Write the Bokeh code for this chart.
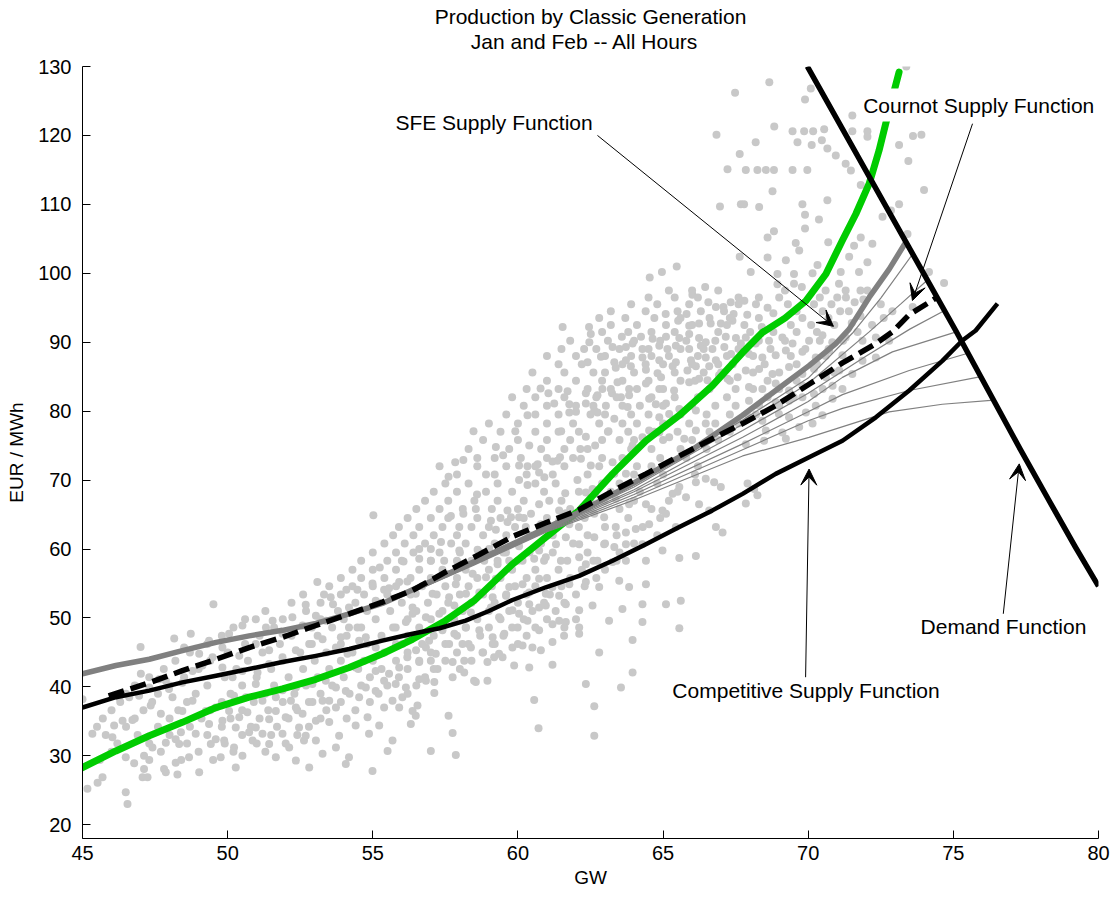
from bokeh.plotting import figure
from bokeh.models import Range1d, Label, Arrow, VeeHead, Title
from bokeh.embed import file_html
from bokeh.resources import INLINE

FONT = "Liberation Sans"

# ---------------- data ----------------
x_ticks = [45, 50, 55, 60, 65, 70, 75, 80]
y_ticks = [20, 30, 40, 50, 60, 70, 80, 90, 100, 110, 120, 130]

title_lines = ["Production by Classic Generation", "Jan and Feb  --  All Hours"]

# observed hourly (GW, EUR/MWh) points, read individually
observed = [
    (67.48, 126.2), (66.84, 120.1), (67.64, 117.3), (67.22, 115.1), (66.96, 109.7), (67.68, 110.0),
    (67.64, 102.4), (64.54, 99.4), (64.96, 100.2), (65.47, 101.0), (66.45, 98.0), (66.01, 96.9),
    (66.56, 95.8), (66.82, 95.1), (67.08, 95.1), (67.33, 95.8), (67.43, 94.1), (65.09, 94.1),
    (65.52, 93.1), (65.81, 94.1), (61.54, 92.2), (62.45, 92.2), (65.90, 92.4), (66.24, 92.7),
    (66.64, 92.7), (66.99, 92.7), (67.39, 93.1),
    (73.38, 130.0), (68.66, 127.7), (70.09, 126.8), (69.89, 125.2), (71.52, 122.9), (68.83, 121.3),
    (69.46, 120.6), (69.86, 120.6), (70.17, 120.6), (70.55, 120.9), (69.63, 119.0), (70.12, 118.6),
    (70.47, 119.3), (70.66, 118.1), (68.19, 119.0), (70.95, 117.1), (71.52, 120.6), (72.04, 120.6),
    (72.04, 119.8), (73.13, 118.6), (73.61, 119.9), (73.90, 120.1), (73.45, 116.3),
    (67.85, 115.0), (68.25, 115.0), (68.54, 115.0), (68.82, 115.0), (69.46, 115.0), (69.97, 115.0),
    (71.29, 115.9), (71.47, 114.9), (73.99, 112.1), (68.77, 111.9), (67.79, 110.0), (68.31, 109.6),
    (69.80, 110.0), (70.66, 110.6), (71.81, 112.8), (69.89, 108.5), (70.37, 107.8), (72.56, 108.2),
    (72.85, 109.1), (73.13, 110.0), (69.89, 106.5), (68.82, 106.1), (68.60, 105.2), (69.57, 104.4),
    (69.69, 103.3), (70.69, 104.5), (71.58, 104.0), (71.81, 105.2), (72.21, 104.3), (73.42, 105.7),
    (69.23, 101.9), (68.60, 102.3), (70.32, 101.2), (70.15, 100.0), (71.12, 100.2), (71.41, 102.4),
    (71.75, 100.2), (72.04, 101.6), (74.16, 100.2), (74.68, 98.6), (68.02, 100.2), (68.94, 99.9),
    (69.51, 99.9), (68.94, 98.4), (69.51, 98.5), (69.78, 98.0), (71.06, 98.5), (71.29, 97.5),
    (72.04, 97.5), (73.60, 95.1), (67.8, 96.0), (68.2, 95.5), (68.6, 95.0), (67.9, 94.0),
    (68.3, 93.5), (68.8, 94.2), (67.8, 92.5), (68.4, 92.2), (71.3, 96.5), (71.6, 95.8),
    (71.9, 96.2), (71.4, 94.5), (71.8, 93.8), (71.5, 92.8),
    (62.51, 91.2), (62.46, 90.0), (63.58, 90.8), (64.24, 90.8), (64.64, 90.5), (65.10, 90.8),
    (65.56, 90.6), (65.90, 91.2), (66.24, 90.6), (66.47, 90.0), (67.16, 90.8), (67.51, 90.6),
    (67.68, 89.8), (63.26, 89.3), (63.72, 89.3), (63.95, 89.8), (64.29, 89.0), (64.87, 89.5),
    (65.15, 89.0), (65.44, 89.5), (65.90, 89.0), (66.30, 89.5), (66.70, 89.0), (67.11, 89.3),
    (67.34, 88.3), (62.28, 89.0), (62.40, 87.1), (62.86, 87.9), (63.32, 87.1), (63.72, 87.4),
    (64.29, 87.8), (64.87, 87.4), (65.44, 87.1), (65.96, 87.4), (66.47, 87.8), (66.82, 87.4),
    (63.37, 86.3), (63.89, 86.5), (64.41, 86.0), (64.81, 85.5), (64.93, 84.9), (65.33, 86.5),
    (65.84, 85.9), (66.13, 86.5), (66.59, 86.5), (63.43, 84.2), (63.83, 83.2), (64.41, 84.0),
    (64.87, 83.2), (65.38, 83.0), (65.90, 84.2), (66.24, 84.7), (66.53, 84.5), (66.93, 85.2),
    (67.22, 84.7), (67.57, 84.9), (60.78, 83.3), (61.05, 82.6), (61.71, 82.9), (62.34, 82.6),
    (62.74, 82.3), (62.91, 83.2), (63.24, 82.6), (63.55, 82.0), (63.83, 82.3), (61.25, 81.1),
    (61.77, 81.0), (62.00, 79.9), (62.34, 81.1), (62.63, 80.1), (63.03, 80.8), (63.32, 78.9),
    (63.78, 80.6), (64.52, 81.8), (64.75, 81.0), (65.10, 81.1), (60.33, 79.4), (61.77, 79.8),
    (62.74, 79.8), (64.87, 79.1), (65.21, 79.6), (65.56, 80.3), (66.13, 80.1), (58.47, 77.1),
    (59.91, 77.1), (61.49, 77.1), (62.34, 76.3), (63.12, 77.1), (63.95, 75.0), (64.29, 76.2),
    (64.52, 77.2), (64.87, 76.9), (65.21, 76.2), (65.73, 76.0), (66.13, 77.2), (66.47, 78.2),
    (57.84, 72.6), (58.12, 72.9), (59.24, 74.8), (59.49, 73.6), (60.39, 75.0), (61.45, 73.3),
    (61.19, 72.7), (62.15, 74.5), (62.66, 75.0), (62.17, 73.1), (62.51, 72.1), (63.26, 72.6),
    (57.61, 70.5), (60.04, 72.1), (60.33, 72.0), (60.68, 72.3), (60.91, 70.4), (61.36, 72.8),
    (62.05, 70.0), (62.34, 68.2), (62.66, 68.0), (63.32, 70.9), (63.72, 70.9), (58.59, 67.9),
    (60.04, 70.0), (60.33, 69.3), (60.73, 71.1), (61.63, 68.1), (62.57, 68.7), (62.97, 67.0),
    (63.37, 67.3), (63.83, 66.5), (64.41, 66.5), (64.98, 65.6), (65.33, 68.0), (65.56, 69.0),
    (66.13, 69.7), (66.47, 70.2), (66.76, 69.7), (66.99, 69.0), (57.69, 64.8), (58.12, 65.1),
    (58.55, 65.8), (59.07, 64.1), (59.64, 65.6), (59.76, 64.6), (60.45, 65.1), (60.73, 66.5),
    (61.08, 67.0), (61.42, 65.6), (61.65, 65.2), (57.98, 63.2), (59.24, 62.8), (59.64, 63.9),
    (60.04, 64.6), (60.27, 63.2), (60.79, 63.6), (61.42, 64.1), (61.77, 63.6), (62.63, 65.1),
    (62.97, 64.6), (63.37, 63.2), (63.72, 62.4), (64.06, 62.9), (64.52, 63.6), (65.10, 65.1),
    (65.44, 63.2), (65.79, 67.5), (66.24, 66.5), (66.59, 65.6), (66.82, 63.2), (67.05, 62.4),
    (56.60, 60.0), (57.00, 60.0), (57.35, 61.0), (57.98, 59.8), (58.61, 59.9), (59.01, 60.0),
    (59.59, 59.5), (60.04, 60.4), (60.73, 59.8), (61.31, 60.7), (61.65, 61.7), (62.11, 60.7),
    (62.63, 61.7), (62.97, 60.7), (63.32, 60.3), (63.72, 60.7), (64.29, 60.7), (64.98, 59.8),
    (65.56, 58.7), (66.13, 59.0), (56.60, 58.6), (57.00, 58.3), (57.46, 58.3), (58.09, 57.6),
    (58.84, 58.3), (59.30, 57.8), (59.70, 58.3), (60.16, 58.3), (60.56, 58.6), (60.96, 58.8),
    (61.48, 58.3), (62.11, 58.8), (62.34, 57.8), (62.74, 58.3), (63.26, 58.1), (63.72, 58.3),
    (64.41, 58.3), (57.52, 56.4), (57.86, 54.9), (58.44, 56.4), (58.90, 55.9), (59.24, 55.7),
    (59.70, 54.5), (60.16, 54.9), (60.73, 55.7), (61.19, 54.5), (61.77, 54.9), (62.34, 55.2),
    (62.80, 54.5), (63.49, 55.4), (63.83, 54.5), (64.41, 54.9), (56.48, 53.5), (57.06, 53.5),
    (57.63, 53.0), (58.21, 53.5), (58.67, 53.7), (59.13, 53.0), (59.59, 53.2), (60.39, 53.7),
    (60.96, 53.5), (61.42, 53.2),
    (67.85, 90.7), (68.19, 89.8), (68.65, 90.2), (69.11, 90.7), (69.46, 89.8), (70.03, 90.2),
    (70.49, 91.0), (70.83, 90.0), (71.29, 90.7), (71.87, 90.2), (72.33, 90.7), (72.79, 90.2),
    (67.96, 88.3), (68.42, 87.8), (68.88, 88.1), (69.23, 88.8), (69.80, 88.6), (70.26, 87.8),
    (70.72, 88.8), (71.18, 88.1), (71.87, 87.3), (72.33, 87.8), (67.85, 85.9), (68.31, 86.1),
    (68.77, 85.4), (69.34, 86.4), (69.80, 85.4), (70.20, 86.1), (70.61, 84.9), (71.07, 85.9),
    (71.52, 85.4), (67.96, 83.5), (68.42, 83.2), (68.88, 84.0), (69.34, 83.0), (69.80, 83.7),
    (70.20, 82.5), (70.84, 83.7), (71.18, 83.2), (67.96, 81.5), (68.31, 80.8), (68.88, 81.3),
    (69.34, 81.5), (69.80, 82.0), (70.26, 80.8), (70.84, 81.8), (67.96, 79.1), (68.42, 78.6),
    (68.99, 79.6), (69.34, 79.1), (69.92, 79.8), (70.49, 79.4), (68.54, 77.2), (69.11, 76.9),
    (69.69, 77.7), (70.15, 78.2), (68.48, 75.7), (69.23, 76.0), (67.85, 75.2), (67.91, 69.5),
    (68.25, 67.8), (67.85, 66.6), (68.14, 68.7),
    (55.02, 64.9), (56.06, 58.2), (55.24, 57.3), (53.09, 55.2), (54.09, 54.1), (54.47, 54.1),
    (54.99, 55.0), (53.32, 53.4), (53.55, 53.0), (55.39, 54.1), (55.56, 54.3), (55.91, 55.2),
    (56.19, 55.3),
    (49.51, 52.0), (52.69, 51.9), (53.63, 52.0), (45.0, 38.2), (45.34, 33.2), (45.17, 25.2),
    (45.52, 26.1), (45.69, 26.9), (46.03, 32.7), (46.09, 34.4), (46.38, 35.1), (46.72, 35.2),
    (46.49, 29.8), (46.78, 28.9), (46.49, 24.7), (46.55, 23.0), (47.12, 28.1), (47.07, 26.9),
    (47.24, 26.9), (47.12, 30.0), (47.41, 31.2), (47.01, 41.9), (47.35, 37.3), (47.70, 36.1),
    (47.81, 28.1), (47.87, 27.6), (48.21, 29.0), (48.27, 27.3), (48.33, 31.7), (48.39, 33.4),
    (48.21, 32.4), (47.87, 31.9), (48.16, 47.0), (48.73, 47.7), (48.50, 45.7), (49.02, 27.6),
    (48.67, 29.8), (48.90, 33.2), (49.08, 35.8), (49.36, 34.6), (49.42, 31.7), (49.59, 32.4),
    (49.88, 32.2), (50.22, 31.2), (50.28, 28.3), (50.51, 30.0), (49.76, 29.8), (50.05, 36.5),
    (50.40, 35.6), (50.68, 36.3), (50.74, 33.4), (50.97, 34.1), (51.20, 33.2), (51.43, 35.3),
    (51.66, 36.5), (52.00, 35.6), (52.18, 38.0), (52.35, 37.0), (52.58, 36.1), (52.92, 37.8),
    (53.27, 38.0), (53.50, 38.0), (53.73, 37.0), (53.04, 35.1), (53.50, 34.9), (53.84, 32.9),
    (52.46, 34.1), (52.69, 32.9), (52.63, 32.2), (54.18, 29.8), (54.07, 28.8), (54.41, 34.4),
    (54.82, 35.6), (54.87, 33.2), (54.99, 27.8), (55.22, 34.4), (55.39, 37.0), (55.68, 38.0),
    (55.91, 37.0), (56.14, 39.9), (55.79, 40.4), (55.39, 40.9), (55.10, 42.3), (54.70, 43.8),
    (54.41, 42.8), (54.13, 44.8), (54.53, 46.7), (54.18, 48.6), (53.90, 47.2), (53.73, 45.7),
    (53.27, 46.9), (52.81, 46.2), (52.35, 45.3), (51.89, 44.3), (51.43, 43.3), (51.03, 42.1),
    (50.97, 40.4), (50.51, 42.3), (50.17, 41.4), (49.82, 42.8), (49.48, 44.3), (49.13, 43.1),
    (48.79, 42.3), (48.44, 40.6), (47.98, 39.7), (47.64, 41.1), (47.30, 39.9), (46.95, 38.7),
    (46.61, 38.5), (46.26, 38.5), (50.05, 47.7), (50.51, 48.9), (50.97, 49.8), (51.32, 48.6),
    (51.55, 49.6), (51.89, 47.7), (52.23, 50.1), (52.58, 48.9), (53.04, 50.3), (53.38, 49.6),
    (50.97, 46.2), (51.43, 45.3), (50.40, 44.5), (49.82, 45.7), (49.36, 46.7), (49.02, 44.8),
    (47.87, 40.9), (48.10, 38.5), (48.44, 36.5), (48.79, 38.0), (49.25, 36.5), (49.59, 37.0),
    (50.22, 38.7), (50.63, 38.5), (51.20, 38.0), (51.66, 38.5), (51.89, 39.5), (52.35, 39.9),
    (52.92, 40.4), (53.38, 40.9), (53.73, 39.9), (54.07, 39.4), (54.53, 38.5), (54.76, 39.9),
    (55.10, 39.4), (55.56, 41.9), (55.91, 42.8), (56.19, 44.3), (56.02, 46.2), (55.79, 48.6),
    (56.14, 49.4), (55.10, 45.7), (54.76, 47.2), (54.47, 48.6), (54.18, 51.5), (55.10, 52.5),
    (56.37, 50.6), (56.02, 38.5), (56.37, 36.5), (56.31, 34.6), (55.68, 32.2), (55.51, 30.7),
    (49.82, 35.1), (50.28, 34.1), (50.86, 32.2), (51.43, 31.7), (51.89, 33.2), (52.12, 31.2),
    (51.66, 29.8), (52.35, 29.3), (53.04, 32.2), (53.27, 30.3), (53.73, 31.2), (52.81, 28.3),
    (47.0, 45.8),
    (56.37, 51.5), (56.83, 50.1), (57.29, 50.6), (57.81, 51.8), (58.38, 50.8), (59.07, 51.5),
    (59.35, 50.1), (59.81, 51.1), (60.04, 50.6), (60.39, 52.0), (60.73, 51.5), (60.96, 51.8),
    (61.65, 52.0), (62.11, 51.1), (62.57, 51.8), (63.60, 51.3), (64.29, 52.0), (65.10, 52.0),
    (65.61, 52.5), (56.60, 47.7), (56.94, 46.7), (57.40, 48.2), (57.81, 47.7), (58.21, 48.6),
    (58.67, 48.2), (59.13, 47.2), (59.53, 47.7), (59.99, 48.6), (60.33, 49.6), (60.73, 48.2),
    (61.19, 49.1), (61.42, 49.6), (61.65, 49.4), (62.11, 48.6), (62.11, 47.7), (61.59, 47.4),
    (63.14, 49.6), (64.29, 49.4), (65.56, 48.5), (63.95, 46.8), (56.49, 45.3), (56.83, 45.7),
    (57.17, 44.8), (57.63, 46.2), (58.09, 46.2), (58.38, 45.7), (58.78, 45.0), (59.13, 46.2),
    (59.35, 44.8), (59.81, 45.7), (60.16, 46.0), (60.50, 45.7), (60.79, 45.3), (61.19, 46.5),
    (62.80, 45.0), (56.60, 43.6), (57.00, 43.8), (57.23, 42.6), (57.75, 43.6), (58.15, 43.8),
    (58.15, 42.1), (58.95, 43.6), (59.18, 44.3), (59.47, 44.3), (59.87, 43.1), (60.39, 42.8),
    (61.19, 43.2), (56.60, 41.1), (56.83, 40.9), (57.12, 40.7), (57.75, 41.4), (58.49, 40.9),
    (58.95, 40.9), (58.55, 40.7), (57.12, 39.1), (56.54, 37.3), (56.48, 35.8), (57.61, 35.8),
    (57.75, 33.3), (57.00, 30.7), (57.86, 30.1), (62.34, 40.4), (63.55, 39.9), (63.95, 42.1),
    (62.63, 37.2), (60.56, 38.1), (60.71, 34.0), (62.63, 32.9),
]

# dense part of the cloud, read row by row: (EUR/MWh level, GW positions)
cloud_rows = [
    (97.5, [65.2, 66.0, 66.9, 69.2, 70.6, 71.8]),
    (96.5, [64.5, 65.4, 66.2, 67.6, 68.3, 69.0, 70.4, 71.0]),
    (95.5, [63.9, 64.8, 65.9, 67.6, 69.3, 70.2, 70.8, 72.5]),
    (94.5, [63.2, 64.4, 65.5, 66.3, 67.1, 69.6, 70.5, 71.1, 72.9]),
    (93.5, [62.8, 63.7, 64.7, 65.6, 66.6, 67.3, 69.8, 70.7, 72.6]),
    (92.5, [63.2, 64.1, 65.1, 66.0, 67.2, 69.4, 70.1, 70.9, 72.2]),
    (91.5, [62.9, 63.8, 64.6, 65.4, 66.9, 68.0, 68.8, 69.6, 70.3, 71.7]),
    (90.2, [61.8, 63.1, 64.0, 64.9, 65.8, 66.8, 68.3, 69.2, 70.4, 71.2]),
    (89.0, [61.5, 62.7, 63.5, 64.5, 65.6, 66.4, 67.6, 68.7, 69.9, 70.7]),
    (88.0, [61.0, 62.0, 63.0, 63.9, 64.6, 65.2, 66.2, 67.2, 68.1, 69.4, 70.6]),
    (86.8, [61.4, 62.2, 63.6, 64.4, 65.0, 66.0, 66.9, 67.4, 68.5, 69.6, 70.3]),
    (85.6, [60.5, 61.6, 62.6, 63.0, 64.0, 65.4, 66.4, 67.0, 68.1, 69.0, 70.9]),
    (84.4, [61.0, 62.0, 62.9, 63.6, 64.5, 65.6, 66.1, 67.3, 68.6, 69.6]),
    (83.2, [60.3, 61.4, 62.4, 63.2, 64.1, 65.0, 66.6, 67.5, 68.1, 69.0, 70.5]),
    (82.0, [59.8, 60.6, 61.6, 62.7, 63.4, 64.6, 65.4, 66.2, 67.2, 68.6, 69.5]),
    (80.8, [60.2, 61.0, 62.0, 62.6, 63.6, 64.2, 65.0, 66.0, 66.8, 67.5, 69.0]),
    (79.5, [59.6, 60.6, 61.4, 62.5, 63.0, 63.9, 64.5, 65.6, 66.5, 67.3, 68.2]),
    (78.2, [59.0, 60.0, 61.0, 61.9, 62.8, 63.6, 64.1, 65.0, 65.9, 66.8, 67.6]),
    (77.0, [59.4, 60.6, 61.4, 62.1, 63.1, 63.8, 64.7, 65.5, 66.6, 67.3]),
    (75.8, [58.8, 60.0, 61.0, 61.8, 62.9, 63.5, 64.0, 65.0, 66.0, 66.9]),
    (74.5, [58.3, 59.7, 60.8, 61.6, 62.4, 63.9, 64.6, 65.6, 66.5]),
    (73.2, [58.6, 59.2, 60.1, 61.0, 61.9, 62.9, 63.6, 64.9, 65.8]),
    (72.0, [57.3, 58.6, 59.6, 60.6, 61.6, 62.8, 64.1, 64.6, 66.2]),
    (70.8, [57.9, 58.9, 59.2, 60.3, 61.2, 62.4, 64.0, 65.0, 66.1]),
    (69.5, [57.5, 58.3, 59.3, 60.6, 61.3, 62.9, 63.5, 64.8]),
    (68.3, [57.1, 57.9, 58.9, 59.8, 60.9, 62.1, 63.2, 64.2, 65.5]),
    (67.0, [56.8, 57.6, 58.5, 59.3, 60.2, 61.5, 62.5, 64.0, 65.2]),
    (65.8, [56.5, 57.3, 58.1, 59.1, 60.0, 61.8, 62.4, 63.5, 64.6]),
    (64.5, [56.2, 57.0, 57.6, 58.6, 59.4, 60.2, 61.0, 62.3, 63.8, 64.9]),
    (63.2, [55.9, 56.6, 57.4, 58.4, 59.0, 59.9, 60.9, 62.1, 63.0, 64.3]),
    (62.0, [55.7, 56.4, 57.1, 57.9, 58.8, 59.6, 60.4, 61.2, 62.4, 63.4, 64.8]),
    (60.8, [55.4, 56.1, 56.8, 57.7, 58.2, 59.2, 60.0, 60.8, 61.9, 63.0, 64.0]),
    (59.5, [55.0, 55.8, 56.4, 57.3, 58.0, 58.7, 59.5, 60.4, 61.2, 62.4, 63.5]),
    (58.3, [54.6, 55.5, 56.0, 57.0, 57.9, 58.4, 59.3, 60.0, 60.9, 61.7, 62.6, 63.4]),
    (57.0, [54.3, 55.0, 55.8, 56.6, 57.4, 58.2, 59.0, 59.8, 60.6, 61.4, 62.2, 63.0]),
    (55.8, [53.9, 54.6, 55.4, 56.3, 57.0, 57.9, 58.6, 59.4, 60.3, 61.0, 61.8, 62.7]),
    (54.6, [53.5, 54.3, 55.0, 55.8, 56.7, 57.5, 58.3, 59.1, 59.9, 60.6, 61.5, 62.3]),
    (53.4, [52.6, 53.9, 54.7, 55.5, 56.3, 57.2, 58.0, 58.8, 59.6, 60.3, 61.1, 62.0]),
    (52.2, [52.2, 53.2, 54.4, 55.2, 56.0, 56.9, 57.6, 58.4, 59.2, 60.0, 60.9, 61.6]),
    (51.0, [51.3, 52.7, 53.8, 54.8, 55.6, 56.5, 57.4, 58.1, 59.0, 59.7, 60.5, 61.3]),
    (49.8, [50.6, 51.9, 53.2, 54.0, 55.1, 56.2, 57.0, 57.8, 58.6, 59.4, 60.2, 61.0, 62.0]),
    (48.6, [50.2, 51.6, 52.9, 53.6, 54.6, 55.7, 56.6, 57.4, 58.2, 59.0, 59.8, 60.6, 61.6]),
    (47.4, [49.8, 51.1, 52.2, 53.1, 54.1, 55.3, 56.2, 57.1, 57.9, 58.7, 59.5, 60.3]),
    (46.2, [49.3, 50.6, 51.8, 52.9, 53.9, 54.8, 55.8, 56.7, 57.5, 58.3, 59.2, 60.0]),
    (45.0, [48.7, 50.0, 51.2, 52.5, 53.4, 54.3, 55.4, 56.2, 57.0, 57.9, 58.8]),
    (43.8, [48.2, 49.4, 50.7, 51.9, 53.0, 53.9, 55.0, 55.8, 56.6, 57.5, 58.4]),
    (42.6, [47.8, 49.0, 50.3, 51.5, 52.6, 53.5, 54.5, 55.3, 56.2, 57.1, 58.0]),
    (41.4, [47.3, 48.5, 49.9, 51.0, 52.1, 53.1, 54.0, 54.9, 55.9, 56.8]),
    (40.2, [46.8, 48.0, 49.3, 50.5, 51.6, 52.7, 53.6, 54.6, 55.5, 56.5]),
    (39.0, [46.5, 47.6, 48.9, 50.1, 51.3, 52.3, 53.2, 54.2, 55.2, 56.2]),
    (37.8, [46.3, 47.4, 48.6, 49.8, 50.9, 51.9, 52.8, 53.9, 54.9]),
    (36.6, [46.0, 47.1, 48.3, 49.4, 50.5, 51.4, 52.4, 53.4, 54.4]),
    (35.4, [45.7, 46.8, 48.0, 49.1, 50.1, 51.1, 52.1, 53.2, 54.1]),
    (34.2, [45.5, 46.5, 47.6, 48.7, 49.8, 50.8, 51.7, 52.8]),
    (33.0, [45.8, 46.9, 48.0, 49.3, 50.5, 51.5, 52.4]),
    (31.8, [46.2, 47.3, 48.6, 49.9, 51.0, 52.0]),
    (30.6, [46.0, 47.7, 49.0, 50.2, 51.3]),
    (29.4, [45.6, 47.3, 48.4, 49.5]),
]

obs_gw = [pt[0] for pt in observed] + [g for lvl, gs in cloud_rows for g in gs]
obs_eur = [pt[1] for pt in observed] + [lvl for lvl, gs in cloud_rows for g in gs]

# realised price curve (green)
real_gw = [45.0, 46.15, 47.3, 48.44, 49.6, 50.74, 51.89, 53.04, 54.19, 55.33, 56.37, 57.5, 58.49,
           59.81, 60.96, 62.11, 63.26, 64.41, 65.56, 66.7, 67.74, 68.42, 69.2, 69.92, 70.61, 71.18,
           71.64, 72.1, 72.44, 72.67, 72.9, 73.13]
real_eur = [28.3, 30.7, 32.9, 34.85, 37.0, 38.5, 39.7, 41.1, 42.8, 44.8, 46.9, 49.6, 52.5,
            57.8, 61.7, 65.6, 70.9, 75.7, 79.4, 83.7, 88.5, 91.4, 93.5, 96.0, 99.9, 104.8,
            108.6, 113.0, 117.8, 121.7, 125.5, 129.2]

# SFE supply function (thick grey)
sfe_gw = [45.0, 46.15, 47.3, 48.44, 49.6, 50.74, 51.89, 53.04, 54.19, 55.33, 56.37, 58.0, 60.0,
          62.0, 64.0, 66.0, 67.74, 68.88, 70.03, 70.95, 71.41, 72.1, 72.79, 73.36]
sfe_eur = [41.9, 43.1, 44.0, 45.25, 46.45, 47.4, 48.2, 49.2, 50.6, 52.1, 54.1, 57.2, 61.1,
           65.1, 69.6, 74.4, 79.4, 83.0, 86.6, 89.8, 91.9, 96.5, 100.6, 104.5]

# Cournot supply function (dashed)
cournot_gw = [45.9, 47.3, 48.44, 49.6, 50.74, 51.89, 53.04, 54.19, 55.33, 56.37, 57.52, 58.67,
              59.81, 60.96, 62.11, 63.26, 64.41, 65.56, 66.7, 67.74, 68.88, 70.03, 71.18, 72.33,
              72.9, 73.48, 74.4]
cournot_eur = [38.7, 40.6, 42.35, 44.0, 45.7, 47.2, 48.9, 50.6, 52.3, 54.0, 56.7, 59.2,
               61.8, 63.8, 65.7, 68.4, 70.9, 73.5, 76.0, 78.2, 80.8, 83.9, 87.0, 89.8,
               91.5, 94.0, 96.4]

# competitive supply function (black)
comp_gw = [45.0, 46.15, 47.3, 48.44, 49.6, 50.74, 51.89, 53.04, 54.19, 55.33, 56.37, 57.3, 58.2,
           59.0, 59.81, 60.96, 62.11, 63.26, 64.41, 65.56, 66.7, 67.74, 68.88, 70.03, 71.18,
           72.33, 73.48, 74.62, 75.31, 75.77, 76.52]
comp_eur = [37.0, 38.5, 39.45, 40.65, 41.6, 42.6, 43.6, 44.5, 45.5, 46.7, 47.7, 48.5, 49.6,
            51.0, 52.6, 54.45, 56.1, 58.3, 60.7, 63.2, 65.6, 68.0, 70.9, 73.3, 75.7,
            79.1, 83.0, 87.3, 90.25, 91.7, 95.6]

# demand function
demand_gw = [69.97, 75.08, 77.3, 78.3, 79.2, 80.0]
demand_eur = [130.0, 91.7, 74.5, 67.0, 60.3, 54.6]

# intermediate supply functions (thin grey)
inter_gw = [
    [56.4, 58.5, 61.0, 64.0, 67.74, 70.0, 71.52, 72.5, 73.6],
    [56.4, 58.5, 61.0, 64.0, 67.74, 70.0, 72.1, 73.2, 74.1],
    [56.4, 58.5, 61.0, 64.0, 67.74, 70.0, 72.0, 73.5, 74.7],
    [56.4, 58.5, 61.0, 64.0, 67.74, 70.0, 71.18, 72.9, 75.1],
    [56.4, 58.5, 61.0, 64.0, 67.74, 70.0, 71.18, 73.48, 75.5],
    [56.4, 58.5, 61.0, 64.0, 67.74, 70.0, 71.18, 73.48, 75.95],
    [56.4, 58.5, 61.0, 64.0, 67.74, 70.03, 72.79, 74.62, 76.4],
]
inter_eur = [
    [54.1, 58.3, 63.1, 69.3, 78.7, 84.8, 91.3, 96.4, 102.8],
    [54.0, 58.2, 63.0, 69.0, 78.1, 84.0, 91.5, 95.6, 99.0],
    [54.0, 58.1, 62.9, 68.6, 77.2, 82.6, 88.0, 91.9, 94.6],
    [53.9, 58.0, 62.8, 68.3, 76.2, 81.4, 84.9, 88.6, 91.5],
    [53.9, 57.9, 62.7, 67.9, 75.25, 79.9, 82.4, 85.9, 88.4],
    [53.8, 57.8, 62.6, 67.5, 74.4, 78.6, 80.4, 83.0, 85.0],
    [53.8, 57.7, 62.5, 67.1, 73.5, 76.2, 79.9, 81.0, 81.6],
]

# annotations: (text, text x, text y, arrow start x, y, arrow tip x, y)
annotations = [
    ("SFE Supply Function", 55.78, 121.9, 62.74, 120.0, 70.87, 92.3),
    ("Cournot Supply Function", 71.72, 124.4, 75.66, 121.7, 73.59, 96.05),
    ("Demand Function", 73.87, 48.7, 76.72, 50.6, 77.27, 72.35),
    ("Competitive Supply Function", 65.32, 39.45, 69.91, 41.4, 70.03, 71.6),
]

# ---------------- figure ----------------
p = figure(frame_width=1016, frame_height=772, title=None,
           x_range=Range1d(45, 80), y_range=Range1d(18, 130),
           output_backend="svg", toolbar_location=None,
           min_border_left=82, min_border_right=14, min_border_top=66, min_border_bottom=58)

# title: a small spacer next to the frame, then the two centred lines
spacer = Title(text=" ", text_font_size="1px", standoff=11, align="center")
sub = Title(text=title_lines[1], align="center", text_font=FONT, text_font_size="21px",
            text_font_style="normal", text_color="black", standoff=0)
main = Title(text=title_lines[0], align="center", text_font=FONT, text_font_size="21px",
             text_font_style="normal", text_color="black", standoff=0)
p.add_layout(spacer, "above")
p.add_layout(sub, "above")
p.add_layout(main, "above")

p.xgrid.visible = False
p.ygrid.visible = False
p.outline_line_color = None
p.background_fill_color = "white"
p.border_fill_color = "white"

for ax in (p.xaxis[0], p.yaxis[0]):
    ax.major_tick_in = 8
    ax.major_tick_out = 0
    ax.minor_tick_line_color = None
    ax.axis_line_color = "black"
    ax.major_tick_line_color = "black"
    ax.major_label_text_font = FONT
    ax.major_label_text_font_size = "20px"
    ax.major_label_text_color = "black"
    ax.axis_label_text_font = FONT
    ax.axis_label_text_font_size = "19px"
    ax.axis_label_text_font_style = "normal"
    ax.axis_label_text_color = "black"

p.xaxis.ticker = x_ticks
p.yaxis.ticker = y_ticks
p.xaxis.axis_label = "GW"
p.yaxis.axis_label = "EUR / MWh"
p.xaxis.major_label_standoff = 7
p.yaxis.major_label_standoff = 11
p.xaxis.axis_label_standoff = 4
p.yaxis.axis_label_standoff = 8

# observations
p.scatter(obs_gw, obs_eur, size=8, fill_color="#c8c8c8", line_color=None)

# realised (green)
p.line(real_gw, real_eur, line_color="#00cc00", line_width=7, line_cap="round", line_join="round")

# intermediate thin lines
for gx, gy in zip(inter_gw, inter_eur):
    p.line(gx, gy, line_color="#808080", line_width=1.2)

# SFE
p.line(sfe_gw, sfe_eur, line_color="#808080", line_width=5.5)
# Cournot
p.line(cournot_gw, cournot_eur, line_color="black", line_width=5.5, line_dash="16 7")
# Competitive
p.line(comp_gw, comp_eur, line_color="black", line_width=4.5, line_join="round")
# Demand
p.line(demand_gw, demand_eur, line_color="black", line_width=5.5, line_join="round")

for text, tx, ty, ax0, ay0, ax1, ay1 in annotations:
    p.add_layout(Arrow(end=VeeHead(size=16, fill_color="black", line_color="black", line_width=1),
                       x_start=ax0, y_start=ay0, x_end=ax1, y_end=ay1,
                       line_color="black", line_width=1))
    lbl = Label(x=tx, y=ty, text=text, text_font=FONT, text_font_size="21px",
                text_baseline="middle", text_align="left", text_color="black")
    if text.startswith("Cournot"):
        lbl.background_fill_color = "white"
        lbl.padding = 5
    p.add_layout(lbl)

open("out.html", "w").write(file_html(p, INLINE))
